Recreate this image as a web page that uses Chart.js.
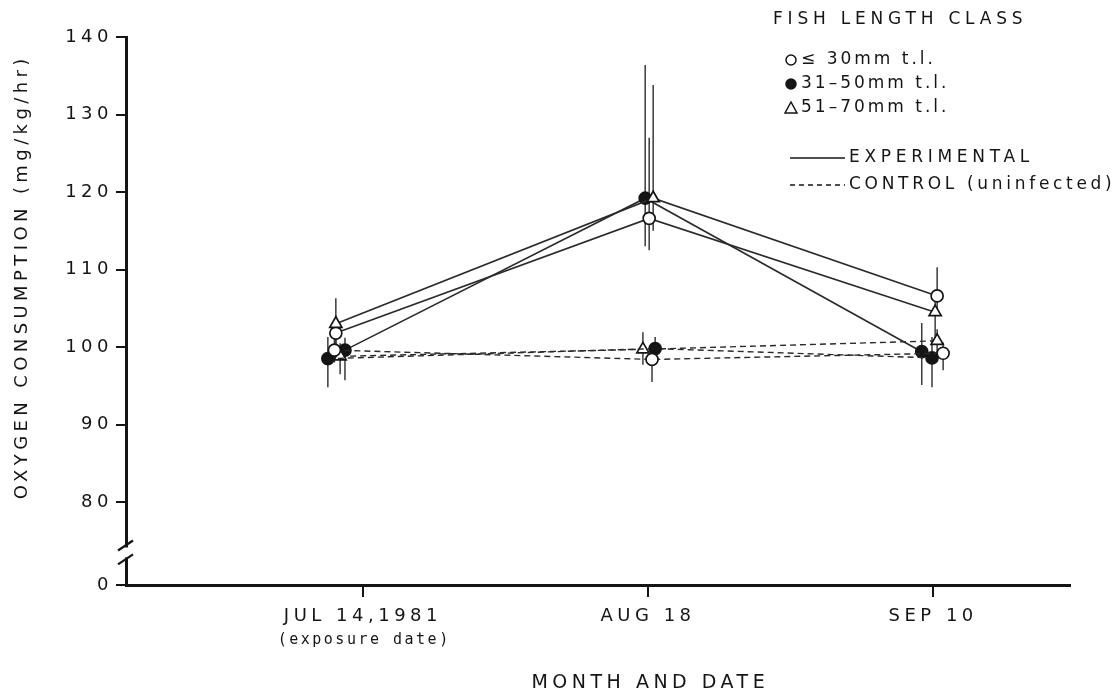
<!DOCTYPE html>
<html>
<head>
<meta charset="utf-8">
<script src="https://cdn.jsdelivr.net/npm/chart.js@4.4.1/dist/chart.umd.min.js"></script>
<style>
  html, body { margin: 0; padding: 0; background: #fff; }
  #wrap { width: 1117px; height: 696px; position: relative; }
</style>
</head>
<body>
<div id="wrap"><canvas id="c" width="1117" height="696"></canvas></div>
<script>
// Sampling dates (x categories) and their sub-notes
const dates = ['JUL 14,1981', 'AUG 18', 'SEP 10'];
const dateNotes = ['(exposure date)', '', ''];

// Y tick values above the axis break; the axis foot is labelled 0
const yTickValues = [80, 90, 100, 110, 120, 130, 140];

// Experimental (infected) curves, oxygen consumption in mg/kg/hr
// marker codes: o = ≤30 mm, f = 31-50 mm, t = 51-70 mm
const expA = [103.0, 119.2, 106.6];
const expA_lo = [100.0, 115.0, 104.5];
const expA_hi = [106.3, 133.8, 110.3];
const expA_marks = ['t', 't', 'o'];

const expB = [101.8, 116.6, 104.5];
const expB_lo = [99.0, 112.5, 100.9];
const expB_hi = [104.0, 127.0, 106.0];
const expB_marks = ['o', 'o', 't'];

const expC = [99.6, 119.2, 99.4];
const expC_lo = [95.7, 113.0, 95.1];
const expC_hi = [101.2, 136.4, 103.1];
const expC_marks = ['f', 'f', 'f'];

// Control (uninfected) curves
const ctlOpen = [99.6, 98.4, 99.2];
const ctlOpen_lo = [98.0, 95.5, 97.0];
const ctlOpen_hi = [101.0, 99.8, 100.6];
const ctlOpen_marks = ['o', 'o', 'o'];

const ctlFilled = [98.5, 99.8, 98.6];
const ctlFilled_lo = [94.8, 97.7, 94.8];
const ctlFilled_hi = [101.3, 101.3, 101.3];
const ctlFilled_marks = ['f', 'f', 'f'];

const ctlTri = [98.8, 99.7, 100.8];
const ctlTri_lo = [96.5, 97.7, 99.0];
const ctlTri_hi = [100.5, 101.9, 102.3];
const ctlTri_marks = ['t', 't', 't'];

// Layout: small horizontal dodges (in date-index units) so overlapping symbols separate
const dodge = {
  expA: [-0.095, 0.018, 0.014],
  expB: [-0.095, 0.004, 0.007],
  expC: [-0.063, -0.010, -0.040],
  ctlOpen: [-0.100, 0.014, 0.035],
  ctlFilled: [-0.123, 0.025, -0.004],
  ctlTri: [-0.080, -0.018, 0.014]
};

const INK = '#151515';
const FONT = 'DejaVu Sans';

function markStyle(code) {
  return code === 't' ? 'triangle' : 'circle';
}
function markFill(code) {
  return code === 'f' ? INK : '#ffffff';
}
function markRadius(code) {
  return code === 't' ? 7 : 6;
}

function series(key, vals, lo, hi, marks, dashed) {
  return {
    label: key,
    data: vals.map((v, i) => ({ x: i + dodge[key][i], y: v })),
    errLo: lo,
    errHi: hi,
    borderColor: '#2a2a2a',
    borderWidth: dashed ? 1.4 : 1.6,
    borderDash: dashed ? [6, 4] : [],
    tension: 0,
    fill: false,
    pointStyle: marks.map(markStyle),
    pointBackgroundColor: marks.map(markFill),
    pointBorderColor: INK,
    pointBorderWidth: 1.7,
    pointRadius: marks.map(markRadius)
  };
}

const datasets = [
  series('ctlOpen', ctlOpen, ctlOpen_lo, ctlOpen_hi, ctlOpen_marks, true),
  series('ctlFilled', ctlFilled, ctlFilled_lo, ctlFilled_hi, ctlFilled_marks, true),
  series('ctlTri', ctlTri, ctlTri_lo, ctlTri_hi, ctlTri_marks, true),
  series('expA', expA, expA_lo, expA_hi, expA_marks, false),
  series('expB', expB, expB_lo, expB_hi, expB_marks, false),
  series('expC', expC, expC_lo, expC_hi, expC_marks, false)
];

// Lowest value of the y scale: sits below the break and reads as 0
const Y_FOOT = 69.3;

// Vertical error bars behind the symbols
const errorBars = {
  id: 'errorBars',
  beforeDatasetsDraw(chart) {
    const ctx = chart.ctx;
    const y = chart.scales.y;
    ctx.save();
    ctx.letterSpacing = '0px';
    ctx.strokeStyle = '#3a3a3a';
    ctx.lineWidth = 1.5;
    chart.data.datasets.forEach((ds, di) => {
      const meta = chart.getDatasetMeta(di);
      meta.data.forEach((pt, i) => {
        ctx.beginPath();
        ctx.moveTo(pt.x, y.getPixelForValue(ds.errLo[i]));
        ctx.lineTo(pt.x, y.getPixelForValue(ds.errHi[i]));
        ctx.stroke();
      });
    });
    ctx.restore();
  }
};

// Wide lettering for axis tick labels
const lettering = {
  id: 'lettering',
  beforeDraw(chart) { chart.ctx.letterSpacing = '4.5px'; },
  beforeDatasetsDraw(chart) { chart.ctx.letterSpacing = '0px'; }
};

function spacedText(ctx, text, x, y, font, spacing, align) {
  ctx.font = font;
  ctx.letterSpacing = spacing + 'px';
  ctx.textAlign = 'left';
  ctx.textBaseline = 'middle';
  let w = ctx.measureText(text).width - spacing;
  let sx = x;
  if (align === 'center') sx = x - w / 2;
  else if (align === 'right') sx = x - w;
  ctx.fillText(text, sx, y);
}

// Titles, date sub-notes, axis break and the key
const decorations = {
  id: 'decorations',
  afterDraw(chart) {
    const ctx = chart.ctx;
    const xs = chart.scales.x;
    const ys = chart.scales.y;
    const area = chart.chartArea;
    ctx.save();
    ctx.fillStyle = INK;
    ctx.strokeStyle = INK;

    // y-axis title
    ctx.save();
    ctx.translate(22, 279);
    ctx.rotate(-Math.PI / 2);
    spacedText(ctx, 'OXYGEN CONSUMPTION (mg/kg/hr)', 0, 0, '18px ' + FONT, 4.4, 'center');
    ctx.restore();

    // x-axis title
    spacedText(ctx, 'MONTH AND DATE', xs.getPixelForValue(1), 683, '19px ' + FONT, 4.5, 'center');

    // date sub-notes
    dateNotes.forEach((n, i) => {
      if (n) spacedText(ctx, n, xs.getPixelForValue(i), 640, '15px DejaVu Sans Mono', 2.5, 'center');
    });

    // axis break on the y axis
    const yb1 = ys.getPixelForValue(74.4);
    const yb2 = ys.getPixelForValue(72.6);
    const ax = area.left;
    ctx.fillStyle = '#ffffff';
    ctx.fillRect(ax - 3, yb1 + 2, 6, yb2 - yb1 - 4);
    ctx.fillStyle = INK;
    ctx.lineWidth = 2.2;
    [yb1, yb2].forEach(yy => {
      ctx.beginPath();
      ctx.moveTo(ax - 8, yy + 5);
      ctx.lineTo(ax + 7, yy - 5);
      ctx.stroke();
    });

    // key
    spacedText(ctx, 'FISH LENGTH CLASS', 773, 20, '17px ' + FONT, 4.8, 'left');
    const keyRows = [
      { code: 'o', text: '≤ 30mm t.l.', y: 60 },
      { code: 'f', text: '31–50mm t.l.', y: 84 },
      { code: 't', text: '51–70mm t.l.', y: 108 }
    ];
    keyRows.forEach(r => {
      ctx.lineWidth = 1.5;
      ctx.fillStyle = markFill(r.code);
      ctx.beginPath();
      if (r.code === 't') {
        ctx.moveTo(791, r.y - 6);
        ctx.lineTo(797, r.y + 5);
        ctx.lineTo(785, r.y + 5);
        ctx.closePath();
      } else {
        ctx.arc(791, r.y, 5, 0, Math.PI * 2);
      }
      ctx.fill();
      ctx.stroke();
      ctx.fillStyle = INK;
      spacedText(ctx, r.text, 801, r.y, '17px ' + FONT, 3, 'left');
    });

    ctx.lineWidth = 1.6;
    ctx.beginPath();
    ctx.moveTo(790, 158);
    ctx.lineTo(845, 158);
    ctx.stroke();
    spacedText(ctx, 'EXPERIMENTAL', 849, 158, '17px ' + FONT, 4.7, 'left');

    ctx.lineWidth = 1.3;
    ctx.setLineDash([5, 4]);
    ctx.beginPath();
    ctx.moveTo(790, 185);
    ctx.lineTo(845, 185);
    ctx.stroke();
    ctx.setLineDash([]);
    spacedText(ctx, 'CONTROL (uninfected)', 849, 185, '17px ' + FONT, 3.7, 'left');

    ctx.restore();
  }
};

Chart.defaults.font.family = FONT;
Chart.defaults.color = INK;

new Chart(document.getElementById('c').getContext('2d'), {
  type: 'line',
  data: { datasets },
  options: {
    responsive: false,
    animation: false,
    events: [],
    layout: { padding: { top: 37, right: 47, left: 0, bottom: 0 } },
    plugins: { legend: { display: false }, tooltip: { enabled: false } },
    scales: {
      x: {
        type: 'linear',
        min: -0.831,
        max: 2.48,
        afterBuildTicks: s => { s.ticks = dates.map((d, i) => ({ value: i })); },
        afterFit: s => { s.height = 111; },
        ticks: {
          callback: v => dates[v],
          font: { size: 18 },
          color: INK,
          padding: 9,
          maxRotation: 0,
          autoSkip: false
        },
        grid: { drawOnChartArea: false, drawTicks: true, tickLength: 12, color: INK, lineWidth: 2 },
        border: { display: true, color: INK, width: 3 }
      },
      y: {
        type: 'linear',
        min: Y_FOOT,
        max: 140,
        afterBuildTicks: s => {
          s.ticks = [{ value: Y_FOOT }].concat(yTickValues.map(v => ({ value: v })));
        },
        afterFit: s => { s.width = 126; },
        ticks: {
          callback: v => (v < 75 ? '0' : String(v)),
          font: { size: 18 },
          color: INK,
          padding: 3
        },
        grid: { drawOnChartArea: false, drawTicks: true, tickLength: 10, color: INK, lineWidth: 2 },
        border: { display: true, color: INK, width: 3 }
      }
    }
  },
  plugins: [lettering, errorBars, decorations]
});
</script>
</body>
</html>
